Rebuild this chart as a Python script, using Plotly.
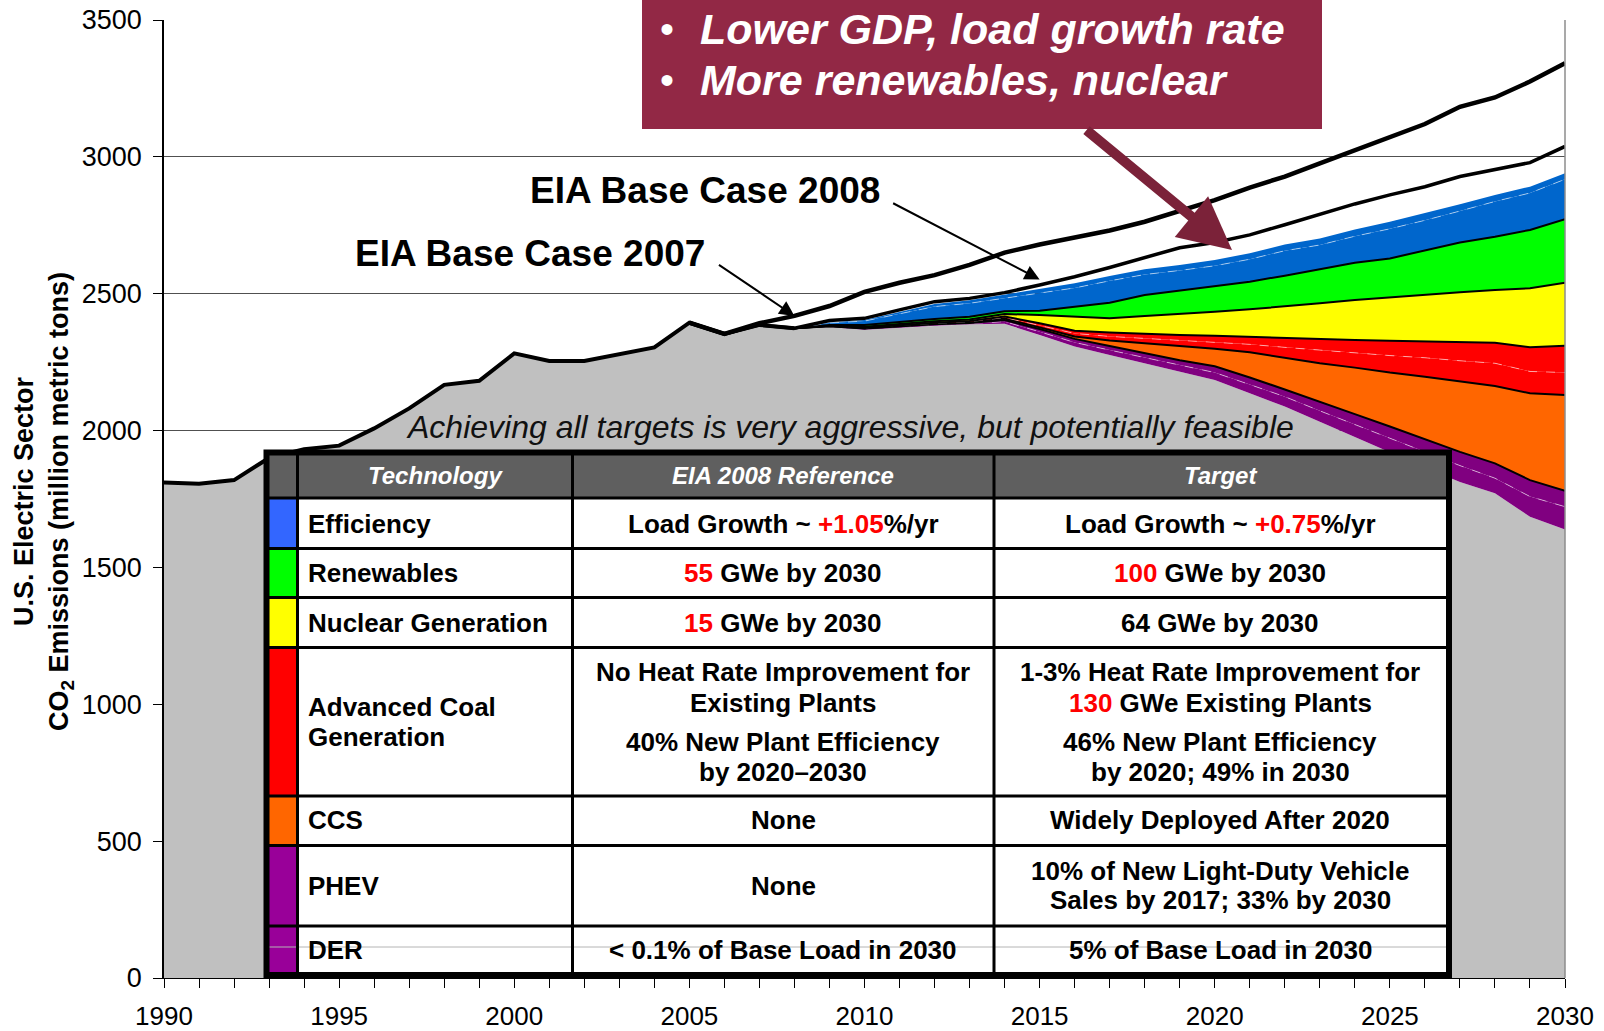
import plotly.graph_objects as go
import numpy as np

# ---------------- data (million metric tons CO2) ----------------
hist_years = list(range(1990, 2009))
hist_emissions = [1810, 1806, 1819, 1900, 1932, 1945, 2008, 2081, 2167, 2182,
                  2282, 2254, 2254, 2280, 2304, 2394, 2353, 2386, 2374]

proj_years = list(range(2008, 2031))
remaining_emissions = [2374, 2378, 2368, 2376, 2383, 2388, 2390, 2349, 2307, 2276, 2246, 2215,
                       2185, 2136, 2088, 2032, 1976, 1920, 1865, 1812, 1771, 1685, 1639]
der_reduction = [0, 2, 3, 3, 3, 3, 8, 12, 15, 18, 20, 23, 27, 32, 36, 40, 46, 52, 56, 60, 55, 74, 83]
phev_reduction = [0, 1, 2, 2, 2, 2, 6, 10, 13, 15, 17, 19, 23, 26, 26, 32, 38, 43, 47, 50, 54, 60, 58]
ccs_reduction = [0, 1, 1, 2, 2, 3, 5, 6, 9, 20, 36, 52, 64, 92, 116, 142, 170, 197, 229, 257, 283, 317, 350]
coal_new_reduction = [0, 1, 1, 2, 2, 2, 4, 8, 11, 15, 18, 21, 24, 29, 38, 47, 54, 62, 69, 76, 83, 80, 82]
coal_existing_reduction = [0, 0, 1, 1, 2, 2, 4, 7, 10, 14, 16, 19, 23, 27, 33, 41, 47, 54, 60, 70, 75, 88, 98]
nuclear_reduction = [0, 1, 3, 4, 5, 6, 9, 30, 51, 52, 66, 77, 88, 101, 116, 131, 146, 159, 169, 180, 193, 216, 230]
renewables_reduction = [0, 2, 7, 7, 9, 10, 10, 16, 37, 57, 76, 85, 92, 101, 113, 124, 136, 142, 162, 182, 194, 213, 232]
efficiency_main_reduction = [0, 7, 14, 30, 45, 49, 48, 63, 68, 80, 75, 74, 76, 82, 91, 89, 97, 108, 111, 115, 129, 135, 146]
efficiency_extra_reduction = [0, 2, 4, 7, 9, 11, 13, 15, 17, 18, 19, 20, 21, 22, 23, 24, 25, 26, 26, 25, 24, 23, 22]

base_years = list(range(2005, 2031))
eia_base_2007 = [2394, 2353, 2392, 2419, 2455, 2507, 2540, 2568, 2605, 2650, 2680, 2706, 2731,
                 2763, 2803, 2842, 2888, 2928, 2976, 3025, 3074, 3120, 3183, 3217, 3275, 3342]
eia_base_2008 = [2394, 2353, 2386, 2374, 2402, 2410, 2441, 2471, 2483, 2504, 2532, 2562, 2596,
                 2633, 2668, 2687, 2715, 2752, 2791, 2828, 2861, 2891, 2928, 2952, 2979, 3038]

y_tick_values = [0, 500, 1000, 1500, 2000, 2500, 3000, 3500]
x_tick_values = [1990, 1995, 2000, 2005, 2010, 2015, 2020, 2025, 2030]

# ---------------- styling ----------------
FONT = "Liberation Sans, Arial, Helvetica, sans-serif"
GRAY = "#C0C0C0"
PURPLE = "#800080"
ORANGE = "#FF6600"
RED = "#FF0000"
YELLOW = "#FFFF00"
GREEN = "#00FF00"
BLUE = "#0066CC"
BLACK_EDGE = dict(color="black", width=2)
DASH_EDGE = dict(color="rgba(255,255,255,0.55)", width=1, dash="dash")
NO_EDGE = dict(width=0)

W_PAGE, H_PAGE = 1604, 1031
M_L, M_R, M_T, M_B = 164, 39, 20, 53
PW = W_PAGE - M_L - M_R
PH = H_PAGE - M_T - M_B


def px(x):
    return (x - M_L) / PW


def py(y):
    return (H_PAGE - M_B - y) / PH


fig = go.Figure()

# all emissions actually emitted / remaining (gray), one continuous area
all_years = hist_years + proj_years[1:]
all_emissions = hist_emissions + remaining_emissions[1:]
fig.add_trace(go.Scatter(x=all_years, y=all_emissions, mode="lines", fill="tozeroy",
                         fillcolor=GRAY, line=NO_EDGE, name="Emissions", showlegend=False))
# invisible base for the stacked wedges
fig.add_trace(go.Scatter(x=proj_years, y=remaining_emissions, mode="lines",
                         line=NO_EDGE, hoverinfo="skip", showlegend=False))

layers = [
    ("DER", der_reduction, PURPLE, DASH_EDGE),
    ("PHEV", phev_reduction, PURPLE, BLACK_EDGE),
    ("CCS", ccs_reduction, ORANGE, BLACK_EDGE),
    ("Advanced Coal (new)", coal_new_reduction, RED, DASH_EDGE),
    ("Advanced Coal (existing)", coal_existing_reduction, RED, BLACK_EDGE),
    ("Nuclear", nuclear_reduction, YELLOW, BLACK_EDGE),
    ("Renewables", renewables_reduction, GREEN, BLACK_EDGE),
    ("Efficiency", efficiency_main_reduction, BLUE, DASH_EDGE),
    ("Efficiency (extra)", efficiency_extra_reduction, BLUE, NO_EDGE),
]
cum = np.array(remaining_emissions, dtype=float)
for name, vals, color, edge in layers:
    cum = cum + np.array(vals, dtype=float)
    fig.add_trace(go.Scatter(x=proj_years, y=cum.tolist(), mode="lines", fill="tonexty",
                             fillcolor=color, line=edge, name=name, showlegend=False))

# black lines
fig.add_trace(go.Scatter(x=base_years, y=eia_base_2008, mode="lines",
                         line=dict(color="black", width=3.5), name="EIA Base Case 2008", showlegend=False))
fig.add_trace(go.Scatter(x=base_years, y=eia_base_2007, mode="lines",
                         line=dict(color="black", width=4.5), name="EIA Base Case 2007", showlegend=False))
fig.add_trace(go.Scatter(x=hist_years, y=hist_emissions, mode="lines",
                         line=dict(color="black", width=4), name="Historical", showlegend=False))

shapes = []
annotations = []

# right plot border
shapes.append(dict(type="line", xref="paper", yref="paper", x0=1, x1=1, y0=0, y1=1,
                   line=dict(color="#8c8c8c", width=1.5), layer="above"))

# ---------------- callout box ----------------
BOX = "#922845"
shapes.append(dict(type="rect", xref="paper", yref="paper", x0=px(642), x1=px(1322),
                   y0=py(129), y1=py(-30), fillcolor=BOX, line=dict(width=0), layer="above"))
callout_lines = ["Lower GDP, load growth rate", "More renewables, nuclear"]
callout_y = [29, 80]
for txt, yy in zip(callout_lines, callout_y):
    annotations.append(dict(xref="paper", yref="paper", x=px(658), y=py(yy), text="•",
                            showarrow=False, xanchor="left", yanchor="middle",
                            font=dict(family=FONT, size=40, color="white")))
    annotations.append(dict(xref="paper", yref="paper", x=px(698), y=py(yy),
                            text="<b><i>" + txt + "</i></b>", showarrow=False,
                            xanchor="left", yanchor="middle",
                            font=dict(family=FONT, size=43, color="white")))
annotations.append(dict(xref="paper", yref="paper", x=px(1232), y=py(250), text="",
                        showarrow=True, ax=-147, ay=-121, arrowhead=2, arrowsize=1.05,
                        arrowwidth=10, arrowcolor="#7B2239"))

# ---------------- base case labels ----------------
annotations.append(dict(xref="paper", yref="paper", x=px(705), y=py(190),
                        text="<b>EIA Base Case 2008</b>", showarrow=False,
                        xanchor="center", yanchor="middle",
                        font=dict(family=FONT, size=37, color="black")))
annotations.append(dict(xref="paper", yref="paper", x=px(530), y=py(253),
                        text="<b>EIA Base Case 2007</b>", showarrow=False,
                        xanchor="center", yanchor="middle",
                        font=dict(family=FONT, size=37, color="black")))
annotations.append(dict(xref="x", yref="y", x=2008, y=eia_base_2007[base_years.index(2008)],
                        text="", showarrow=True, ax=-77, ay=-52, arrowhead=2,
                        arrowsize=1.5, arrowwidth=2, arrowcolor="black"))
annotations.append(dict(xref="x", yref="y", x=2015, y=eia_base_2008[base_years.index(2015)] + 20,
                        text="", showarrow=True, ax=-148, ay=-77, arrowhead=2,
                        arrowsize=1.5, arrowwidth=2, arrowcolor="black"))

# ---------------- subtitle ----------------
annotations.append(dict(xref="paper", yref="paper", x=px(850), y=py(427),
                        text="<i>Achieving all targets is very aggressive, but potentially feasible</i>",
                        showarrow=False, xanchor="center", yanchor="middle",
                        font=dict(family=FONT, size=32, color="#111111")))

# ---------------- table ----------------
T_L, T_R, T_T, T_B = 264, 1452, 450, 978
IN_L, IN_R, IN_T, IN_B = 269, 1446, 455, 972
col_lines = [297.5, 572.5, 994]
row_lines = [498, 548.5, 597.5, 647.5, 796, 845.5, 926]
swatch_colors = ["#3366FF", "#00FF00", "#FFFF00", "#FF0000", "#FF6600", "#990099", "#990099"]

shapes.append(dict(type="rect", xref="paper", yref="paper", x0=px(T_L), x1=px(T_R),
                   y0=py(T_B), y1=py(T_T), fillcolor="white", line=dict(width=0), layer="above"))
shapes.append(dict(type="rect", xref="paper", yref="paper", x0=px(IN_L), x1=px(IN_R),
                   y0=py(row_lines[0]), y1=py(IN_T), fillcolor="#5F5F5F", line=dict(width=0),
                   layer="above"))
row_bounds = row_lines + [IN_B]
for i, c in enumerate(swatch_colors):
    shapes.append(dict(type="rect", xref="paper", yref="paper", x0=px(IN_L), x1=px(col_lines[0]),
                       y0=py(row_bounds[i + 1]), y1=py(row_bounds[i]), fillcolor=c,
                       line=dict(width=0), layer="above"))
# faint artifact line through the last row
shapes.append(dict(type="line", xref="paper", yref="paper", x0=px(IN_L), x1=px(IN_R),
                   y0=py(947), y1=py(947), line=dict(color="#b4b4b4", width=1), layer="above"))
for yy in row_lines:
    shapes.append(dict(type="line", xref="paper", yref="paper", x0=px(IN_L), x1=px(IN_R),
                       y0=py(yy), y1=py(yy), line=dict(color="black", width=3), layer="above"))
for xx in col_lines:
    shapes.append(dict(type="line", xref="paper", yref="paper", x0=px(xx), x1=px(xx),
                       y0=py(IN_B), y1=py(IN_T), line=dict(color="black", width=3), layer="above"))
shapes.append(dict(type="rect", xref="paper", yref="paper", x0=px(266.5), x1=px(1449),
                   y0=py(975), y1=py(452.5), line=dict(color="black", width=6), layer="above"))

R_ = '<span style="color:#FF0000">'
E_ = '</span>'
header_texts = ["Technology", "EIA 2008 Reference", "Target"]
col_centers = [(col_lines[0] + col_lines[1]) / 2, (col_lines[1] + col_lines[2]) / 2,
               (col_lines[2] + IN_R) / 2]
for t, cx in zip(header_texts, col_centers):
    annotations.append(dict(xref="paper", yref="paper", x=px(cx), y=py(476),
                            text="<b><i>" + t + "</i></b>", showarrow=False,
                            xanchor="center", yanchor="middle",
                            font=dict(family=FONT, size=24, color="white")))

# (text, y-center) lists per column
tech_cells = [("Efficiency", 524), ("Renewables", 573), ("Nuclear Generation", 622.5),
              ("Advanced Coal", 707), ("Generation", 737), ("CCS", 820), ("PHEV", 886),
              ("DER", 950)]
ref_cells = [("Load Growth ~ " + R_ + "+1.05" + E_ + "%/yr", 524),
             (R_ + "55" + E_ + " GWe by 2030", 573),
             (R_ + "15" + E_ + " GWe by 2030", 622.5),
             ("No Heat Rate Improvement for", 672), ("Existing Plants", 703),
             ("40% New Plant Efficiency", 742), ("by 2020–2030", 772),
             ("None", 820), ("None", 886),
             ("&lt; 0.1% of Base Load in 2030", 950)]
target_cells = [("Load Growth ~ " + R_ + "+0.75" + E_ + "%/yr", 524),
                (R_ + "100" + E_ + " GWe by 2030", 573),
                ("64 GWe by 2030", 622.5),
                ("1-3% Heat Rate Improvement for", 672),
                (R_ + "130" + E_ + " GWe Existing Plants", 703),
                ("46% New Plant Efficiency", 742), ("by 2020; 49% in 2030", 772),
                ("Widely Deployed After 2020", 820),
                ("10% of New Light-Duty Vehicle", 871), ("Sales by 2017; 33% by 2030", 900),
                ("5% of Base Load in 2030", 950)]
for t, yy in tech_cells:
    annotations.append(dict(xref="paper", yref="paper", x=px(306), y=py(yy),
                            text="<b>" + t + "</b>", showarrow=False,
                            xanchor="left", yanchor="middle",
                            font=dict(family=FONT, size=26, color="black")))
for cells, cx in ((ref_cells, col_centers[1]), (target_cells, col_centers[2])):
    for t, yy in cells:
        annotations.append(dict(xref="paper", yref="paper", x=px(cx), y=py(yy),
                                text="<b>" + t + "</b>", showarrow=False,
                                xanchor="center", yanchor="middle",
                                font=dict(family=FONT, size=26, color="black")))

# ---------------- y axis title ----------------
annotations.append(dict(xref="paper", yref="paper", x=px(43), y=py(502),
                        text="<b>U.S. Electric Sector<br>CO<sub>2</sub> Emissions (million metric tons)</b>",
                        showarrow=False, textangle=-90, xanchor="center", yanchor="middle",
                        font=dict(family=FONT, size=27, color="black")))

fig.update_layout(
    template="none",
    width=W_PAGE, height=H_PAGE,
    margin=dict(l=M_L, r=M_R, t=M_T, b=M_B, pad=0, autoexpand=False),
    paper_bgcolor="white", plot_bgcolor="white",
    showlegend=False,
    font=dict(family=FONT, size=26, color="black"),
    shapes=shapes, annotations=annotations,
    xaxis=dict(range=[1990, 2030], tickmode="array", tickvals=x_tick_values,
               ticktext=[str(v) for v in x_tick_values], automargin=False,
               ticks="outside", ticklen=9, tickwidth=1, tickcolor="black", ticklabelstandoff=6,
               minor=dict(dtick=1, tick0=1990, ticks="outside", ticklen=9, tickwidth=1, tickcolor="black",
                          showgrid=False),
               showline=True, linecolor="black", linewidth=1, showgrid=False, zeroline=False,
               tickfont=dict(family=FONT, size=26, color="black")),
    yaxis=dict(range=[0, 3500], tickmode="array", tickvals=y_tick_values,
               ticktext=[str(v) for v in y_tick_values], automargin=False,
               ticks="outside", ticklen=9, tickwidth=1, tickcolor="black", ticklabelstandoff=6,
               showline=True, linecolor="black", linewidth=1.5,
               showgrid=True, gridcolor="#505050", gridwidth=1, zeroline=False,
               tickfont=dict(family=FONT, size=27, color="black")),
)

fig.write_html("out.html", config={"displayModeBar": False},
               post_script="document.body.style.margin='0';")
